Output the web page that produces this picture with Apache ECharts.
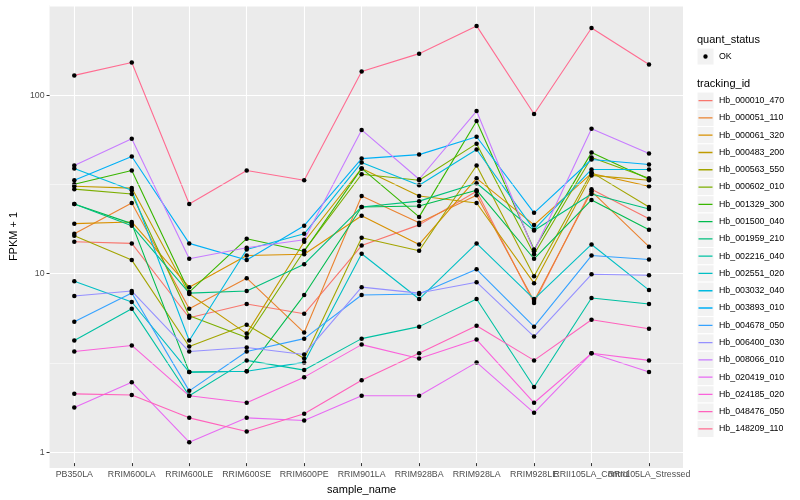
<!DOCTYPE html>
<html><head><meta charset="utf-8">
<script src="https://cdn.jsdelivr.net/npm/echarts@6/dist/echarts.min.js"></script>
<style>html,body{margin:0;padding:0;background:#fff}#c{width:800px;height:500px}</style>
</head><body><div id="c"></div>
<script>
// ---- data ----
const samples = ['PB350LA','RRIM600LA','RRIM600LE','RRIM600SE','RRIM600PE','RRIM901LA','RRIM928BA','RRIM928LA','RRIM928LE','RRII105LA_Control','RRII105LA_Stressed'];
const trackingIds = ['Hb_000010_470','Hb_000051_110','Hb_000061_320','Hb_000483_200','Hb_000563_550','Hb_000602_010','Hb_001329_300','Hb_001500_040','Hb_001959_210','Hb_002216_040','Hb_002551_020','Hb_003032_040','Hb_003893_010','Hb_004678_050','Hb_006400_030','Hb_008066_010','Hb_020419_010','Hb_024185_020','Hb_048476_050','Hb_148209_110'];
const hueColors = ['#F8766D','#EA8331','#D89000','#C09B00','#A3A500','#7CAE00','#39B600','#00BB4E','#00BF7D','#00C1A3','#00BFC4','#00BAE0','#00B0F6','#35A2FF','#9590FF','#C77CFF','#E76BF3','#FA62DB','#FF62BC','#FF6C91'];

const Hb_000010_470 = [14.6, 14.3, 5.42, 6.49, 5.71, 13.9, 18.2, 28.2, 6.58, 29.0, 19.7];
const Hb_000051_110 = [16.2, 24.2, 6.09, 9.08, 4.47, 26.5, 18.7, 26.8, 6.75, 28.2, 13.7];
const Hb_000061_320 = [18.5, 18.9, 8.08, 12.2, 12.4, 20.5, 14.1, 33.4, 18.2, 35.6, 30.1];
const Hb_000483_200 = [30.1, 29.4, 7.39, 4.41, 14.6, 38.0, 26.5, 24.2, 8.51, 34.7, 32.6];
const Hb_000563_550 = [15.8, 11.5, 3.73, 4.95, 3.19, 15.4, 13.0, 39.5, 9.32, 36.1, 23.0];
const Hb_000602_010 = [29.0, 27.2, 5.56, 4.19, 13.0, 35.2, 32.6, 52.5, 12.4, 43.8, 33.4];
const Hb_001329_300 = [30.9, 37.0, 7.58, 15.2, 12.9, 38.0, 20.2, 70.6, 13.2, 46.7, 33.0];
const Hb_001500_040 = [23.9, 18.5, 2.67, 2.70, 7.29, 23.0, 23.3, 28.6, 11.7, 25.2, 17.1];
const Hb_001959_210 = [23.9, 18.0, 7.48, 7.68, 10.9, 23.0, 24.8, 31.3, 16.9, 27.2, 22.4];
const Hb_002216_040 = [4.03, 6.09, 1.96, 3.11, 2.74, 4.13, 4.83, 6.92, 2.20, 7.02, 6.49];
const Hb_002551_020 = [8.73, 6.66, 2.67, 2.70, 3.03, 12.5, 6.92, 14.3, 6.92, 14.1, 7.78];
const Hb_003032_040 = [38.0, 28.6, 4.03, 13.2, 16.2, 41.1, 30.5, 48.6, 17.1, 37.5, 37.5];
const Hb_003893_010 = [32.6, 44.4, 14.3, 11.5, 18.0, 43.2, 45.5, 57.4, 21.3, 42.7, 40.0];
const Hb_004678_050 = [5.15, 7.48, 2.09, 3.49, 4.13, 7.29, 7.39, 10.2, 4.83, 12.2, 11.6];
const Hb_006400_030 = [7.20, 7.68, 3.49, 3.68, 3.36, 8.08, 7.48, 8.62, 4.24, 9.56, 9.44];
const Hb_008066_010 = [39.5, 56.0, 11.7, 13.5, 15.0, 62.8, 33.0, 80.3, 12.9, 63.7, 46.1];
const Hb_020419_010 = [1.68, 2.34, 1.07, 1.47, 1.42, 1.96, 1.96, 3.03, 1.57, 3.41, 2.67];
const Hb_024185_020 = [3.49, 3.78, 1.96, 1.79, 2.50, 3.82, 3.19, 4.08, 1.79, 3.41, 3.11];
const Hb_048476_050 = [2.01, 1.98, 1.47, 1.23, 1.55, 2.40, 3.41, 4.89, 3.11, 5.28, 4.70];
const Hb_148209_110 = [127.8, 151.1, 23.9, 37.0, 32.6, 134.5, 169.7, 243.6, 77.3, 237.3, 147.3];

const seriesValues = [Hb_000010_470, Hb_000051_110, Hb_000061_320, Hb_000483_200, Hb_000563_550, Hb_000602_010, Hb_001329_300, Hb_001500_040, Hb_001959_210, Hb_002216_040, Hb_002551_020, Hb_003032_040, Hb_003893_010, Hb_004678_050, Hb_006400_030, Hb_008066_010, Hb_020419_010, Hb_024185_020, Hb_048476_050, Hb_148209_110];
const yMajorTicks = [1, 10, 100];
const yMinorBreaks = [Math.pow(10, 0.5), Math.pow(10, 1.5), Math.pow(10, 2.5)];

// ---- layout ----
const FONT = 'Liberation Sans';
const Y_MIN = 0.815, Y_MAX = 320;
const PANEL = {left: 40, right: 117, top: 5, bottom: 32};
const DATA_GRID = {left: 74.3, right: 151, top: 5, bottom: 32};
const LEG_X = 697, KEY = 17, KEY_H = 17.28, LEG2_TOP = 92, LEG1_TOP = 48;

const isPow10 = v => Math.abs(Math.log10(v) - Math.round(Math.log10(v))) < 1e-6;

const lineIcon = 'path://M0,0h0.01v0.01z M17,17.28h-0.01v-0.01z M1.5,8.0h14v1.3h-14z';
const dotIcon = 'path://M0,0h0.01v0.01z M17,17h-0.01v-0.01z M6.3,8.5a2.2,2.2 0 1,0 4.4,0a2.2,2.2 0 1,0 -4.4,0z';

const lineSeries = trackingIds.map((id, i) => ({
  name: id, type: 'line', xAxisIndex: 1, yAxisIndex: 1,
  data: seriesValues[i], symbol: 'none', silent: true,
  lineStyle: {color: hueColors[i], width: 1.1},
  itemStyle: {color: hueColors[i]},
  z: 3
}));

const pointData = [];
seriesValues.forEach(arr => arr.forEach((v, j) => pointData.push([samples[j], v])));

const keyRects = [{x: LEG_X, y: LEG1_TOP, h: KEY}].concat(trackingIds.map((_, i) => ({x: LEG_X, y: LEG2_TOP + i * KEY_H, h: KEY_H})));

const option = {
  animation: false,
  textStyle: {fontFamily: FONT},
  grid: [
    Object.assign({show: true, backgroundColor: '#EBEBEB', borderWidth: 0}, PANEL),
    Object.assign({show: false}, DATA_GRID)
  ],
  xAxis: [
    {gridIndex: 0, type: 'value', show: false, min: 0, max: 1},
    {gridIndex: 1, type: 'category', data: samples, boundaryGap: false,
     axisLine: {show: false},
     axisTick: {show: true, length: 3, lineStyle: {color: '#333333', width: 1}},
     axisLabel: {interval: 0, hideOverlap: false, color: '#4D4D4D', fontSize: 8.8, margin: 7, fontFamily: FONT},
     splitLine: {show: true, interval: 0, lineStyle: {color: '#FFFFFF', width: 1.1}},
     name: 'sample_name', nameLocation: 'middle', nameGap: 13,
     nameTextStyle: {fontSize: 11, color: '#000', fontFamily: FONT}}
  ],
  yAxis: [
    {gridIndex: 0, type: 'log', logBase: 10, min: Y_MIN, max: Y_MAX,
     axisLine: {show: false},
     axisTick: {show: true, length: 3, lineStyle: {color: '#333333', width: 1}},
     axisLabel: {color: '#4D4D4D', fontSize: 8.8, margin: 5, fontFamily: FONT, showMinLabel: false, showMaxLabel: false,
       formatter: v => (isPow10(v) && yMajorTicks.indexOf(Math.round(v)) >= 0) ? String(Math.round(v)) : ''},
     splitLine: {show: true, lineStyle: {color: '#FFFFFF', width: 1.1}},
     name: 'FPKM + 1', nameLocation: 'middle', nameGap: 25,
     nameTextStyle: {fontSize: 11, color: '#000', fontFamily: FONT}},
    {gridIndex: 1, type: 'log', logBase: 10, min: Y_MIN, max: Y_MAX, show: false, splitLine: {show: false}}
  ],
  legend: [
    {data: [{name: 'OK', icon: dotIcon}], orient: 'vertical', left: LEG_X, top: LEG1_TOP,
     itemWidth: KEY, itemHeight: KEY, itemGap: 0, padding: 0, selectedMode: false,
     textStyle: {fontSize: 8.8, color: '#000', fontFamily: FONT}},
    {data: trackingIds.map(n => ({name: n, icon: lineIcon})), orient: 'vertical', left: LEG_X, top: LEG2_TOP,
     itemWidth: KEY, itemHeight: KEY_H, itemGap: 0, padding: 0, selectedMode: false,
     textStyle: {fontSize: 8.8, color: '#000', fontFamily: FONT}}
  ],
  graphic: [
    {type: 'text', left: LEG_X, top: 34, style: {text: 'quant_status', font: '11px "Liberation Sans"', fill: '#000'}},
    {type: 'text', left: LEG_X, top: 78, style: {text: 'tracking_id', font: '11px "Liberation Sans"', fill: '#000'}}
  ].concat(keyRects.map(r => ({type: 'rect', shape: {x: r.x, y: r.y, width: KEY, height: r.h}, style: {fill: '#F2F2F2', stroke: '#FFFFFF', lineWidth: 1}, silent: true}))),
  series: [
    {type: 'line', xAxisIndex: 0, yAxisIndex: 0, data: [], silent: true, z: 1,
     markLine: {silent: true, symbol: ['none', 'none'], label: {show: false}, animation: false,
       lineStyle: {color: '#FFFFFF', width: 0.5, type: 'solid'},
       data: yMinorBreaks.map(v => ({yAxis: v}))}}
  ].concat(lineSeries).concat([
    {name: 'OK', type: 'scatter', xAxisIndex: 1, yAxisIndex: 1, data: pointData, symbol: 'circle', symbolSize: 4.5,
     itemStyle: {color: '#000000', opacity: 1}, silent: true, z: 4}
  ])
};
const chart = echarts.init(document.getElementById('c'));
chart.setOption(option);
</script></body></html>
